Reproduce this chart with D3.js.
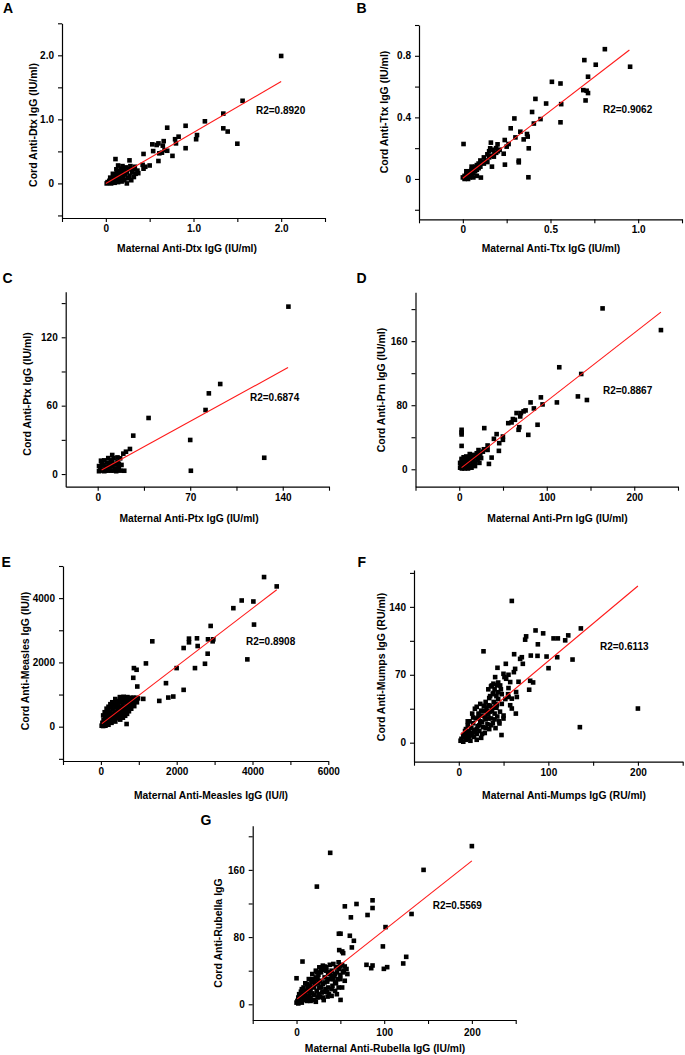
<!DOCTYPE html>
<html><head><meta charset="utf-8">
<script src="https://cdn.jsdelivr.net/npm/d3@7/dist/d3.min.js"></script>
<style>
body{margin:0;background:#fff;}
svg text{font-family:"Liberation Sans",Arial,sans-serif;font-weight:bold;fill:#000;}
</style></head><body>
<svg id="chart" width="685" height="1055"></svg>
<script>
// ---------------- DATA ----------------
const dtxPoints = [
 [2.0,1.99],[1.56,1.29],[1.34,1.09],[1.34,0.86],[1.39,0.81],[1.50,0.62],[1.13,0.97],[1.04,0.755],[1.03,0.69],[0.91,0.90],[0.91,0.55],[0.70,0.87],[0.83,0.73],[0.79,0.69],[0.80,0.625],[0.76,0.43],[0.66,0.66],[0.65,0.59],[0.60,0.625],[0.53,0.61],[0.54,0.505],[0.61,0.47],[0.60,0.35],[0.50,0.28],[0.43,0.46],[0.43,0.23],[0.42,0.29],[0.27,0.36],[0.11,0.38],[0.58,0.6],[0.67,0.52],[0.64,0.48],[0.70,0.51],
 [0.01,0.0],[0.02,0.02],[0.03,0.01],[0.04,0.04],[0.05,0.02],[0.06,0.05],[0.06,0.0],[0.07,0.08],[0.08,0.03],[0.09,0.1],[0.09,0.06],[0.1,0.01],[0.11,0.13],[0.11,0.08],[0.12,0.04],[0.13,0.16],[0.13,0.1],[0.14,0.02],[0.15,0.19],[0.15,0.12],[0.16,0.07],[0.17,0.23],[0.17,0.15],[0.18,0.03],[0.19,0.27],[0.19,0.18],[0.2,0.1],[0.21,0.22],[0.21,0.05],[0.22,0.14],[0.23,0.25],[0.24,0.0],[0.24,0.18],[0.25,0.08],[0.26,0.22],[0.27,0.12],[0.28,0.27],[0.29,0.05],[0.3,0.17],[0.31,0.22],[0.32,0.1],[0.33,0.26],[0.34,0.15],[0.36,0.2],[0.08,0.15],[0.12,0.22],[0.05,0.09],[0.14,0.28],[0.37,0.16],[0.45,0.26],[0.33,0.23]
];
const dtxFit = [[0,0.0],[2.0,1.59]];

const ttxPoints = [
 [0.81,0.843],[0.954,0.729],[0.693,0.772],[0.758,0.742],[0.714,0.664],[0.687,0.577],[0.706,0.573],[0.714,0.558],[0.70,0.51],[0.508,0.631],[0.557,0.62],[0.561,0.486],[0.557,0.368],[0.475,0.49],[0.414,0.52],[0.443,0.389],[0.395,0.435],[0.405,0.36],[0.294,0.393],[0.273,0.329],[0.328,0.307],[0.366,0.292],[0.37,0.275],[0.347,0.257],[0.376,0.199],[0.374,0.011],[0.319,0.119],[0.319,0.108],[0.239,0.253],[0.261,0.227],[0.24,0.093],[0.233,0.164],[0.198,0.225],[0.160,0.236],[0.156,0.199],[0.177,0.145],[0.166,0.08],[0.004,0.227],[0.103,0.009],[0.3,0.27],[0.25,0.21],[0.21,0.19],[0.19,0.17],
 [0.0,0.01],[0.01,0.02],[0.01,0.0],[0.02,0.03],[0.02,0.01],[0.03,0.04],[0.03,0.02],[0.04,0.05],[0.04,0.01],[0.05,0.06],[0.05,0.03],[0.06,0.07],[0.06,0.04],[0.07,0.08],[0.07,0.05],[0.08,0.09],[0.08,0.06],[0.09,0.1],[0.09,0.07],[0.1,0.12],[0.1,0.08],[0.11,0.11],[0.12,0.14],[0.12,0.1],[0.13,0.12],[0.14,0.16],[0.14,0.11],[0.15,0.18],[0.15,0.14],[0.16,0.15],[0.17,0.19],[0.18,0.17],[0.19,0.2],[0.2,0.18],[0.03,0.0],[0.06,0.01],[0.08,0.02],[0.05,0.08],[0.02,0.05]
];
const ttxFit = [[0,0.005],[0.95,0.838]];

const ptxPoints = [
 [144.3,146.9],[92.7,79],[84.1,70.8],[81.6,56.2],[70,29.9],[70.5,2.9],[126,14.3],[38.5,49.2],[26.9,33.7],[24.4,22],[21.4,19.6],[19.4,17.9],[20.1,2.9],[2.5,11.7],[11,16.7],[15,14.6],[17,13.8],
 [1,2.5],[2,5],[3,3],[4,8],[5,2.5],[6,6],[7,10],[8,3],[9,5],[10,12],[11,7],[12,3],[13,9],[14,4],[15,11],[16,6],[17,3],[3,9],[5,12],[8,14],[12,14],[6,3],[10,3],[14,2.5],[18,8],[7,6],[13,5],[9,9],[1,7],[4,4],[16,9],[11,11]
];
const ptxFit = [[3,3.5],[144,93.4]];

const prnPoints = [
 [163.8,200.9],[230.5,173.8],[114.3,127.4],[139.4,119],[135.6,91],[145.9,86.5],[111.6,83.5],[93.3,89.8],[95.2,81],[81.5,83.5],[85.3,76],[75.8,73.5],[73.5,72.3],[65.5,70.2],[70.5,70.2],[69.7,66],[68.6,52.6],[67.8,49.3],[61.3,62.7],[56,57.6],[89.5,55.6],[78.9,43],[49.9,40.9],[49.9,36.8],[42.7,43.9],[39.6,38],[45.7,32.6],[45.3,23],[28.6,51.4],[32.4,29.7],[32.4,24.2],[33.9,6.7],[37,14.6],[28.2,25],[2.7,49.3],[2.7,46],[2.7,43.5],[2.7,29.2],[2.7,13],[59.8,58.5],[63.6,61.8],[21.7,20],
 [1,2],[2,5],[3,1],[4,8],[5,3],[6,10],[7,5],[8,2],[9,12],[10,7],[11,14],[12,4],[13,10],[14,16],[15,6],[16,12],[17,18],[18,9],[19,15],[20,20],[21,12],[22,17],[23,8],[24,19],[25,14],[1,8],[3,12],[5,15],[8,16],[12,19],[14,2],[18,4],[10,1],[6,1],[4,4],[27,22],[22,24]
];
const prnFit = [[2.7,2.1],[230.5,196.3]];

const measlesPoints = [
 [4305,4656],[4639,4365],[3715,3927],[3495,3688],[4023,3896],[4040,3177],[3864,2094],[2896,3135],[2826,2719],[2967,2719],[2949,2656],[2817,2271],[2746,1958],[2553,2510],[2535,2750],[2324,2740],[2324,2625],[2183,2448],[2482,1823],[1998,1823],[2183,1146],[1910,938],[1778,906],[1717,1354],[1540,802],[1356,2656],[1188,1969],[1118,865],[960,1250],[942,1771],[871,1823],[854,1521],[678,83],
 [20,30],[40,120],[60,20],[70,200],[90,90],[110,300],[120,30],[130,180],[150,420],[160,100],[170,260],[190,520],[200,60],[210,350],[230,180],[240,460],[260,600],[270,260],[280,120],[300,400],[310,540],[320,200],[340,680],[350,320],[360,460],[380,160],[390,600],[400,740],[410,380],[420,260],[440,520],[450,680],[460,800],[470,320],[480,440],[500,600],[510,220],[520,760],[530,500],[540,380],[560,840],[570,660],[580,280],[590,560],[600,440],[620,760],[630,880],[640,340],[650,620],[660,500],[680,820],[690,400],[700,700],[720,580],[730,880],[740,480],[760,780],[780,660],[790,900],[800,560],[820,840],[840,740],[860,900],[880,640],[900,820],[920,900],[950,760],[980,880],[200,620],[150,560],[100,450],[60,350],[250,700],[300,760],[380,860],[500,920],[600,930],[700,920]
];
const measlesFit = [[26,94],[4639,4260]];

const mumpsPoints = [
 [59.2,146.1],[200,35.2],[135.2,16],[136.3,117.8],[122.2,110.6],[118.8,105.5],[127,85.7],[110.6,107.5],[105.8,107.5],[109.9,88.1],[100.2,76.8],[98,88.8],[88.3,101.4],[85.7,115.7],[94.2,112.7],[87.9,89.5],[80.4,89.8],[75.2,109.6],[74.1,106.2],[79.7,63.8],[83,62.1],[78.6,54.6],[70.4,88.1],[68.5,86.4],[61.8,91.2],[71.5,81.3],[62.9,76.1],[61.5,72.7],[52.5,81.3],[43.2,77.2],[27.6,94.2],[51,67.6],[55.5,70],[66.7,62.8],[64,52.2],[55.5,56.3],[38.7,60.8],[42.5,59.1],[38.7,51.2],[57.4,38.6],[59.2,35.2],[63.7,30],[49.9,24.9],[47.7,7.9],[45.4,19.8],[33.1,24.9],
 [36.9,59],[40.6,67.6],[46.2,59],[49.9,71],[52.9,65.9],[57.4,62.5],[55.5,47.1],[59.2,45.4],[64.8,47.1],[42.5,38.6],[36.9,35.2],[31.3,31.8],[33.1,38.6],
 [2,2],[3,4],[5,1],[6,6],[8,3],[9,9],[10,5],[11,12],[12,7],[13,2],[14,15],[15,10],[16,20],[17,6],[18,13],[19,25],[20,9],[21,17],[22,30],[23,12],[24,22],[25,5],[26,28],[27,16],[28,33],[29,10],[30,24],[31,36],[32,19],[33,29],[34,14],[35,38],[36,25],[37,33],[38,20],[39,42],[40,30],[41,15],[42,36],[43,27],[44,45],[45,22],[15,30],[18,35],[12,22],[20,37],[25,33],[7,12],[10,18],[30,42],[35,48],[40,55],[38,50],[42,48],[48,40],[46,32],[50,28],[52,45],[55,50],[33,55],[36,58],[24,40],
 [5,8],[8,14],[11,4],[14,8],[17,11],[20,14],[23,18],[26,21],[29,26],[32,30],[35,32],[38,36],[41,40],[44,52],[47,55],[20,3],[26,9],[30,15],[36,18],[40,24],[10,22],[16,26],[22,26],[28,38],[34,46],[44,62],[48,50]
];
const mumpsFit = [[1.9,8.5],[200,161.5]];

const rubellaPoints = [
 [200,188.3],[144.9,160],[38.4,180.3],[23.2,140.1],[86.7,123.8],[86.7,114.6],[68.4,119.4],[55.1,116.6],[62,103.5],[81,106.3],[131.2,107.5],[101.5,91.9],[48.3,84],[50.2,84],[60.8,81.6],[65.4,75.6],[63.1,67.7],[98.5,68.9],[48.7,64.5],[52.1,62.9],[53.2,60.9],[6.8,50.9],[0,31],[35.4,9.2],[50.2,5.2],[79.8,47],[86.7,46.2],[85.2,43],[99.6,42.2],[103.4,44.2],[121.7,48.6],[125.1,56.5],
 [0,2],[1,4],[2,1],[3,6],[4,3],[5,8],[6,2],[7,10],[8,5],[9,13],[10,7],[11,16],[12,4],[13,19],[14,10],[15,22],[16,8],[17,26],[18,13],[19,29],[20,11],[21,24],[22,32],[23,16],[24,8],[25,35],[26,20],[27,28],[28,38],[29,14],[30,24],[31,41],[32,32],[33,18],[34,44],[35,27],[36,36],[37,12],[38,47],[39,30],[40,40],[41,22],[42,48],[43,34],[44,26],[45,44],[46,38],[47,30],[48,50],[49,42],[50,35],[52,47],[54,40],[55,45],[36,20],[30,15],[25,25],[20,20],[15,15],[10,12],[27,9],[44,16],[40,10],[18,30],[12,24],[32,45],[23,38],
 [5,15],[8,20],[10,25],[14,30],[18,36],[22,40],[26,44],[30,46],[20,5],[25,12],[30,8],[35,15],[40,18],[45,25],[50,30],[48,20],[42,30],[38,38],[34,40],[28,42],[16,18],[20,27],[24,30],[28,20],[32,26],[36,30],[40,34],[44,36],[47,44],[50,46],[53,38],[12,8],[8,12],[16,4],[22,3],[31,5],[46,12],[52,20],[55,28],[3,12],[2,8],[6,18],[57,42],[58,36]
];
const rubellaFit = [[0.8,6.4],[200,170.7]];

// tick values and labels
const dtxTicks = [-0.5,0,0.5,1,1.5,2,2.5];
const dtxTickLabels = ["","0","","1.0","","2.0",""];
const ttxXTicks = [-0.25,0,0.25,0.5,0.75,1,1.25];
const ttxXTickLabels = ["","0","","0.5","","1.0",""];
const ttxYTicks = [-0.2,0,0.2,0.4,0.6,0.8,1.0];
const ttxYTickLabels = ["","0","","0.4","","0.8",""];
const ptxXTicks = [0,35,70,105,140,175];
const ptxXTickLabels = ["0","","70","","140",""];
const ptxYTicks = [0,30,60,90,120,150];
const ptxYTickLabels = ["0","","60","","120",""];
const ticks50 = [-50,0,50,100,150,200,250];
const ticks50Labels = ["","0","","100","","200",""];
const ticks40 = [0,40,80,120,160,200];
const ticks40Labels = ["0","","80","","160",""];
const measlesXTicks = [-1000,0,1000,2000,3000,4000,5000,6000];
const measlesXTickLabels = ["","0","","2000","","4000","","6000"];
const measlesYTicks = [-1000,0,1000,2000,3000,4000,5000];
const measlesYTickLabels = ["","0","","2000","","4000",""];
const mumpsYTicks = [0,35,70,105,140,175];
const mumpsYTickLabels = ["0","","70","","140",""];

// ---------------- LAYOUT ----------------
const panels = [
 {letter:"A", lx:3, ly:12.5, pts:dtxPoints, fit:dtxFit, r2:"R2=0.8920", r2x:256, r2y:113.5,
  xd:[-0.5,2.5], xr:[62,325], yd:[-0.54,2.5], yr:[218,23.3],
  xt:dtxTicks, xl:dtxTickLabels, yt:dtxTicks, yl:dtxTickLabels,
  xTitle:"Maternal Anti-Dtx IgG (IU/ml)", xtx:187, xty:251.5,
  yTitle:"Cord Anti-Dtx IgG (IU/ml)", ytx:37, yty:125},
 {letter:"B", lx:356.5, ly:12.5, pts:ttxPoints, fit:ttxFit, r2:"R2=0.9062", r2x:603, r2y:112.5,
  xd:[-0.25,1.25], xr:[419,682], yd:[-0.262,1.0], yr:[219.3,25],
  xt:ttxXTicks, xl:ttxXTickLabels, yt:ttxYTicks, yl:ttxYTickLabels,
  xTitle:"Maternal Anti-Ttx IgG (IU/ml)", xtx:551, xty:251.5,
  yTitle:"Cord Anti-Ttx IgG (IU/ml)", ytx:388, yty:112},
 {letter:"C", lx:2.5, ly:283, pts:ptxPoints, fit:ptxFit, r2:"R2=0.6874", r2x:250, r2y:401,
  xd:[-24.2,175], xr:[65.7,329], yd:[-11.1,160], yr:[486.7,291.7],
  xt:ptxXTicks, xl:ptxXTickLabels, yt:ptxYTicks, yl:ptxYTickLabels,
  xTitle:"Maternal Anti-Ptx IgG (IU/ml)", xtx:189, xty:521.5,
  yTitle:"Cord Anti-Ptx IgG (IU/ml)", ytx:30.5, yty:394},
 {letter:"D", lx:356.5, ly:283, pts:prnPoints, fit:prnFit, r2:"R2=0.8867", r2x:603, r2y:393.5,
  xd:[-50,250], xr:[415.5,678], yd:[-21.75,221], yr:[486.7,292.3],
  xt:ticks50, xl:ticks50Labels, yt:ticks40, yl:ticks40Labels,
  xTitle:"Maternal Anti-Prn IgG (IU/ml)", xtx:557.5, xty:521.5,
  yTitle:"Cord Anti-Prn IgG (IU/ml)", ytx:385, yty:390},
 {letter:"E", lx:1.5, ly:566.5, pts:measlesPoints, fit:measlesFit, r2:"R2=0.8908", r2x:246, r2y:645,
  xd:[-1000,6000], xr:[63,328.3], yd:[-1068,5000], yr:[761,566],
  xt:measlesXTicks, xl:measlesXTickLabels, yt:measlesYTicks, yl:measlesYTickLabels,
  xTitle:"Maternal Anti-Measles IgG (IU/l)", xtx:211, xty:798.5,
  yTitle:"Cord Anti-Measles IgG (IU/l)", ytx:29, yty:661},
 {letter:"F", lx:357.5, ly:566.5, pts:mumpsPoints, fit:mumpsFit, r2:"R2=0.6113", r2x:600, r2y:650,
  xd:[-50,250], xr:[414,682.7], yd:[-19.6,178], yr:[761.7,570],
  xt:ticks50, xl:ticks50Labels, yt:mumpsYTicks, yl:mumpsYTickLabels,
  xTitle:"Maternal Anti-Mumps IgG (RU/ml)", xtx:564, xty:798.5,
  yTitle:"Cord Anti-Mumps IgG (RU/ml)", ytx:384.5, yty:667},
 {letter:"G", lx:200.5, ly:825, pts:rubellaPoints, fit:rubellaFit, r2:"R2=0.5569", r2x:432.7, r2y:908.5,
  xd:[-50,250], xr:[252.7,515.7], yd:[-18.7,212.6], yr:[1020,825.7],
  xt:ticks50, xl:ticks50Labels, yt:ticks40, yl:ticks40Labels,
  xTitle:"Maternal Anti-Rubella IgG (IU/ml)", xtx:385, xty:1051.5,
  yTitle:"Cord Anti-Rubella IgG", ytx:221.5, yty:933, xPad:5}
];

const svg = d3.select("#chart");
const M = 4.6; // marker size

panels.forEach(p => {
  const g = svg.append("g");
  const x = d3.scaleLinear().domain(p.xd).range(p.xr);
  const y = d3.scaleLinear().domain(p.yd).range(p.yr);

  const xAxis = d3.axisBottom(x).tickValues(p.xt).tickFormat((d,i)=>p.xl[i])
    .tickSize(4).tickSizeOuter(0).tickPadding(p.xPad||3);
  const yAxis = d3.axisLeft(y).tickValues(p.yt).tickFormat((d,i)=>p.yl[i])
    .tickSize(4).tickSizeOuter(0).tickPadding(4);

  const gx = g.append("g").attr("transform",`translate(0,${p.yr[0]})`).call(xAxis);
  const gy = g.append("g").attr("transform",`translate(${p.xr[0]},0)`).call(yAxis);
  [gx,gy].forEach(a=>{
    a.selectAll(".domain").attr("stroke","#000").attr("stroke-width",1.2);
    a.selectAll(".tick line").attr("stroke","#000").attr("stroke-width",1.1);
    a.selectAll(".tick text").attr("font-size","10px").attr("font-weight","bold")
      .attr("font-family","'Liberation Sans',Arial,sans-serif").attr("fill","#000");
  });

  // points
  g.append("g").selectAll("rect").data(p.pts).join("rect")
    .attr("x", d=>x(d[0])-M/2).attr("y", d=>y(d[1])-M/2)
    .attr("width",M).attr("height",M).attr("fill","#000");

  // fit line
  g.append("line")
    .attr("x1",x(p.fit[0][0])).attr("y1",y(p.fit[0][1]))
    .attr("x2",x(p.fit[1][0])).attr("y2",y(p.fit[1][1]))
    .attr("stroke","#ff1a1a").attr("stroke-width",1.1);

  // texts
  g.append("text").attr("x",p.r2x).attr("y",p.r2y).attr("font-size","10px").text(p.r2);
  g.append("text").attr("x",p.lx).attr("y",p.ly).attr("font-size","14px").text(p.letter);
  g.append("text").attr("x",p.xtx).attr("y",p.xty).attr("text-anchor","middle")
    .attr("font-size","10.3px").text(p.xTitle);
  g.append("text").attr("transform",`translate(${p.ytx},${p.yty}) rotate(-90)`)
    .attr("text-anchor","middle").attr("font-size","10.5px").text(p.yTitle);
});
</script>
</body></html>
